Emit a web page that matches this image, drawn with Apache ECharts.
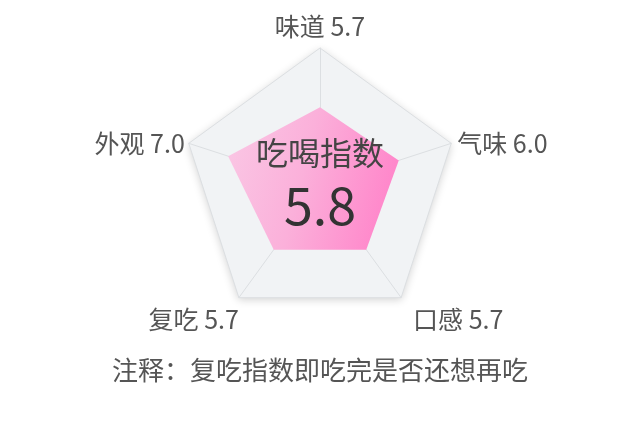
<!DOCTYPE html>
<html><head><meta charset="utf-8">
<script src="https://cdn.jsdelivr.net/npm/echarts@6/dist/echarts.min.js"></script>
<style>html,body{margin:0;padding:0;background:#fff}#c{width:641px;height:425px}</style>
</head><body><div id="c"></div>
<script>
var indicatorNames = ['味道', '外观', '复吃', '口感', '气味'];
var scores = [5.7, 7.0, 5.7, 5.7, 6.0];
var maxScore = 10;
var indexTitle = '吃喝指数';
var indexValue = '5.8';
var noteText = '注释：复吃指数即吃完是否还想再吃';

var font = '"Noto Sans CJK SC", "Noto Sans", sans-serif';
var chart = echarts.init(document.getElementById('c'));
var labelPad = {
  p0: [0, 0, 44, 0],
  p1: [0, 4, 0, 0],
  p2: [44, 0, 0, 0],
  p3: [44, 0, 0, 12],
  p4: [0, 0, 0, 6]
};
var rich = {};
Object.keys(labelPad).forEach(function (k) {
  rich[k] = { padding: labelPad[k], color: '#555', fontSize: 25, fontFamily: font };
});
chart.setOption({
  backgroundColor: '#fff',
  animation: false,
  radar: {
    center: [320, 186],
    radius: 138,
    startAngle: 90,
    splitNumber: 1,
    nameGap: 0,
    indicator: indicatorNames.map(function (n, i) {
      return { name: n + ' ' + scores[i].toFixed(1), max: maxScore };
    }),
    axisName: {
      color: '#555', fontSize: 25, fontFamily: font, verticalAlign: 'middle',
      formatter: function (name) {
        var i = indicatorNames.indexOf(name.split(' ')[0]);
        return '{p' + i + '|' + name + '}';
      },
      rich: rich
    },
    splitLine: { lineStyle: { color: '#dcdfe2', width: 1 } },
    splitArea: { areaStyle: { color: ['#f1f3f5'], shadowColor: 'rgba(0,0,0,0.18)', shadowBlur: 8, shadowOffsetY: 2 } },
    axisLine: { lineStyle: { color: '#dcdfe2', width: 1 } }
  },
  series: [{
    type: 'radar',
    symbol: 'none',
    lineStyle: { width: 0 },
    areaStyle: {
      opacity: 1,
      color: new echarts.graphic.LinearGradient(0, 0, 1, 0.3, [
        { offset: 0, color: '#fac8e5' },
        { offset: 0.5, color: '#fbb0da' },
        { offset: 1, color: '#ff88cb' }
      ])
    },
    data: [{ value: scores }]
  }],
  graphic: [
    { type: 'text', z: 100, x: 320, y: 153, style: { text: indexTitle, fill: '#444', font: '32px ' + font, align: 'center', verticalAlign: 'middle' } },
    { type: 'text', z: 100, x: 320, y: 205, style: { text: indexValue, fill: '#333', font: '52px ' + font, align: 'center', verticalAlign: 'middle' } },
    { type: 'text', z: 100, x: 320, y: 370, style: { text: noteText, fill: '#555', font: '26px ' + font, align: 'center', verticalAlign: 'middle' } }
  ]
});
</script></body></html>
